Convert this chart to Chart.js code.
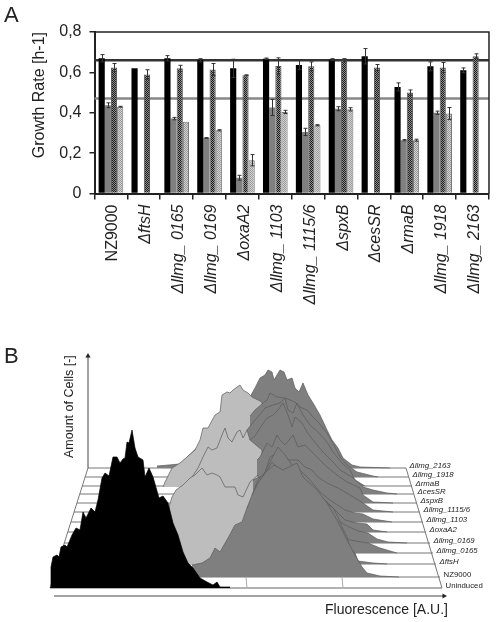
<!DOCTYPE html>
<html>
<head>
<meta charset="utf-8">
<title>Growth rate and fluorescence</title>
<script src="https://cdn.jsdelivr.net/npm/chart.js@4"></script>
<style>
  html, body { margin: 0; padding: 0; background: #fff; }
  #page { position: relative; width: 497px; height: 622px; overflow: hidden; font-family: "Liberation Sans", Arial, sans-serif; color: #222; }
  canvas { position: absolute; left: 0; }
  #graficaA { top: 0; }
  #graficaB { top: 340px; }
  .letra { position: absolute; left: 4px; font-size: 22px; line-height: 22px; }
</style>
</head>
<body>
<div id="page">
  <canvas id="graficaA" width="497" height="340"></canvas>
  <canvas id="graficaB" width="497" height="282"></canvas>
  <div class="letra" style="top:4px">A</div>
  <div class="letra" style="top:345px">B</div>
</div>
<script>
// Panel A: growth rates
const categories = ['NZ9000', 'ΔftsH', 'Δllmg_ 0165', 'Δllmg_ 0169', 'ΔoxaA2', 'Δllmg_ 1103', 'Δllmg_ 1115/6', 'ΔspxB', 'ΔcesSR', 'ΔrmaB', 'Δllmg_ 1918', 'Δllmg_ 2163'];
const yTickLabels = ['0', '0,2', '0,4', '0,6', '0,8'];
const seriesBlack = [0.67, 0.62, 0.67, 0.66, 0.62, 0.668, 0.637, 0.663, 0.68, 0.528, 0.63, 0.61];
const seriesGrey = [0.437, null, 0.371, 0.275, 0.078, 0.426, 0.305, 0.42, null, 0.264, 0.40, null];
const seriesHatch = [0.624, 0.59, 0.62, 0.614, 0.586, 0.632, 0.63, 0.66, 0.624, 0.50, 0.624, 0.68];
const seriesLight = [0.43, null, 0.355, 0.313, 0.165, 0.404, 0.338, 0.417, null, 0.264, 0.396, null];
const errBlack = [0.018, 0, 0.013, 0.008, 0.045, 0.003, 0.023, 0.005, 0.038, 0.02, 0.022, 0.012];
const errGrey = [0.012, 0, 0.006, 0.002, 0.012, 0.04, 0.018, 0.01, 0, 0.003, 0.008, 0];
const errHatch = [0.02, 0.023, 0.015, 0.03, 0.002, 0.04, 0.022, 0.008, 0.015, 0.013, 0.025, 0.012];
const errLight = [0.002, 0, 0, 0.003, 0.028, 0.008, 0.003, 0.008, 0, 0.005, 0.03, 0];
const refDark = 0.66;
const refGrey = 0.47;

// Panel B: histograms, back row first. x = fluorescence, y = cells + row offset
const rowNames = ['Δllmg_2163', 'Δllmg_1918', 'ΔrmaB', 'ΔcesSR', 'ΔspxB', 'Δllmg_1115/6', 'Δllmg_1103', 'ΔoxaA2', 'Δllmg_0169', 'Δllmg_0165', 'ΔftsH', 'NZ9000', 'Uninduced'];
const rowBase = [120, 111, 102, 94, 85, 76, 66, 56, 45, 35, 24, 11, 0];
const rowLeft = [38, 35, 32, 30, 27, 24, 21, 18, 14, 11, 8, 3, 0];
const rowRight = [356, 359, 362, 364, 367, 370, 373, 376, 380, 383, 386, 390, 392];
const floorTicks = [196, 292];

const x2163 = [107, 130, 200, 205, 210, 215, 218, 222, 224, 230, 234, 237, 242, 245, 249, 253, 258, 263, 270, 277, 282, 288, 293, 302, 310, 340];
const y2163 = [122, 124, 191, 200, 210, 213, 218, 216, 208, 218, 216, 208, 210, 200, 196, 205, 193, 185, 173, 158, 148, 140, 130, 123, 121, 120];
const xLightA = [113, 115, 122, 130, 137, 145, 150, 153, 158, 165, 170, 172, 177, 180, 183, 190, 193, 198, 202, 212, 213];
const yLightA = [101, 106, 120, 125, 131, 138, 148, 160, 160, 173, 176, 193, 196, 195, 198, 203, 198, 195, 191, 186, 101];
const x1918 = [200, 205, 212, 217, 220, 227, 235, 240, 245, 250, 257, 263, 268, 277, 283, 290, 297, 307, 323, 328];
const y1918 = [172, 178, 184, 188, 195, 191, 190, 188, 186, 181, 178, 171, 166, 155, 145, 131, 123, 116, 112, 111];
const xRmaB = [197, 205, 212, 215, 223, 230, 235, 238, 243, 247, 253, 260, 268, 277, 283, 292, 300, 305, 315];
const yRmaB = [158, 168, 176, 180, 183, 185, 190, 178, 175, 185, 173, 163, 156, 146, 136, 125, 118, 108, 102];
const xCesSR = [200, 205, 210, 217, 223, 228, 233, 238, 242, 245, 252, 257, 263, 273, 283, 290, 302, 313, 323, 337, 347];
const yCesSR = [148, 152, 160, 170, 173, 178, 185, 173, 161, 171, 165, 156, 148, 136, 126, 118, 111, 101, 98, 95, 94];
const xLightB = [133, 140, 148, 153, 158, 162, 167, 172, 175, 178, 182, 187, 190, 193, 197, 200, 212, 213];
const yLightB = [101, 108, 120, 131, 141, 138, 140, 153, 160, 150, 146, 156, 158, 150, 158, 148, 138, 78];
const xSpxB = [207, 210, 217, 222, 227, 230, 235, 243, 248, 255, 260, 268, 277, 287, 297, 310, 313, 323, 343];
const ySpxB = [128, 131, 145, 141, 153, 148, 143, 153, 141, 143, 138, 130, 121, 113, 106, 100, 93, 86, 85];
const xLightC = [115, 118, 122, 126, 133, 140, 145, 152, 157, 162, 167, 170, 175, 185, 188, 193, 200, 208, 209];
const yLightC = [68, 78, 91, 98, 103, 110, 113, 120, 113, 115, 113, 111, 101, 101, 93, 91, 106, 113, 24];
const x1115 = [203, 210, 215, 220, 227, 233, 240, 248, 255, 262, 268, 277, 288, 300, 313, 323, 343];
const y1115 = [108, 111, 115, 131, 135, 130, 128, 128, 121, 118, 111, 105, 100, 93, 85, 78, 76];
const x1103 = [205, 212, 220, 228, 235, 242, 250, 260, 270, 280, 295, 305, 313, 323, 342];
const y1103 = [101, 110, 126, 141, 133, 123, 118, 108, 96, 88, 78, 75, 74, 69, 66];
const xOxaA2 = [202, 208, 215, 222, 230, 238, 246, 255, 265, 275, 285, 295, 307, 317, 323, 337];
const yOxaA2 = [93, 108, 114, 126, 118, 110, 113, 106, 96, 88, 78, 68, 65, 64, 58, 56];
const x0169 = [200, 212, 220, 235, 250, 265, 280, 295, 308, 318, 327, 338, 357];
const y0169 = [86, 98, 110, 100, 98, 83, 73, 63, 57, 55, 49, 46, 45];
const x0165 = [198, 215, 225, 235, 250, 270, 285, 300, 318, 330, 347];
const y0165 = [82, 88, 98, 91, 88, 68, 58, 48, 45, 40, 35];
const xFtsH = [197, 205, 215, 222, 230, 240, 250, 260, 270, 283, 288, 292, 297, 300, 305, 308, 323, 337];
const yFtsH = [80, 93, 108, 118, 111, 116, 110, 100, 90, 80, 71, 61, 51, 40, 35, 27, 25, 24];
const xNZ = [142, 152, 160, 165, 170, 178, 185, 192, 197, 202, 208, 216, 224, 233, 247, 253, 267, 277, 287, 297, 305, 312, 317, 330, 349];
const yNZ = [23, 25, 30, 40, 36, 50, 63, 66, 80, 93, 105, 116, 123, 118, 125, 111, 98, 85, 68, 48, 33, 21, 15, 12, 11];
const xUninduced = [0, 1, 1, 3, 7, 9, 11, 15, 17, 22, 26, 30, 33, 36, 41, 45, 48, 52, 55, 59, 63, 67, 70, 73, 75, 77, 79, 82, 85, 88, 93, 95, 99, 103, 109, 113, 118, 123, 128, 133, 138, 143, 150, 157, 163, 167, 170, 180];
const yUninduced = [0, 1, 21, 31, 33, 31, 41, 43, 41, 53, 60, 58, 76, 70, 80, 76, 88, 110, 115, 112, 131, 131, 125, 129, 130, 146, 145, 158, 140, 131, 128, 111, 120, 111, 90, 92, 85, 65, 53, 36, 25, 20, 10, 6, 3, 6, 1, 1];

const fontFamily = '"Liberation Sans", Arial, sans-serif';
const colorDarkFill = '#7f7f7f';
const colorLightFill = '#bdbdbd';

// Trama de dos colores para las barras
function crearTrama(a, b) {
  const c = document.createElement('canvas');
  c.width = 2;
  c.height = 2;
  const g = c.getContext('2d');
  g.fillStyle = b;
  g.fillRect(0, 0, 2, 2);
  g.fillStyle = a;
  g.fillRect(0, 0, 1, 1);
  g.fillRect(1, 1, 1, 1);
  return g.createPattern(c, 'repeat');
}

function puntos(xs, ys) {
  return xs.map((x, i) => ({ x: x, y: ys[i] }));
}

// Lineas de referencia y marco, detras de las barras
const marcoPlugin = {
  id: 'marco',
  beforeDatasetsDraw(chart) {
    const { ctx, chartArea: a, scales } = chart;
    ctx.save();
    ctx.lineWidth = 2.5;
    ctx.strokeStyle = '#333';
    let y = scales.y.getPixelForValue(refDark);
    ctx.beginPath(); ctx.moveTo(a.left, y); ctx.lineTo(a.right, y); ctx.stroke();
    ctx.strokeStyle = '#888';
    y = scales.y.getPixelForValue(refGrey);
    ctx.beginPath(); ctx.moveTo(a.left, y); ctx.lineTo(a.right, y); ctx.stroke();
    ctx.strokeStyle = '#222';
    ctx.lineWidth = 1.5;
    ctx.beginPath();
    ctx.moveTo(a.left, a.top); ctx.lineTo(a.right, a.top); ctx.lineTo(a.right, a.bottom);
    ctx.stroke();
    ctx.restore();
  }
};

// Barras de error
const erroresPlugin = {
  id: 'errores',
  afterDatasetsDraw(chart) {
    const { ctx, scales } = chart;
    const errs = [errBlack, errGrey, errHatch, errLight];
    ctx.save();
    ctx.strokeStyle = '#333';
    ctx.lineWidth = 1;
    errs.forEach((serie, d) => {
      chart.getDatasetMeta(d).data.forEach((bar, i) => {
        const v = chart.data.datasets[d].data[i];
        if (v === null || !serie[i]) return;
        const x = Math.round(bar.x) + 0.5;
        const arriba = scales.y.getPixelForValue(v + serie[i]);
        const abajo = scales.y.getPixelForValue(v - serie[i]);
        ctx.beginPath();
        ctx.moveTo(x, arriba); ctx.lineTo(x, abajo);
        ctx.moveTo(x - 2, arriba); ctx.lineTo(x + 2, arriba);
        ctx.moveTo(x - 2, abajo); ctx.lineTo(x + 2, abajo);
        ctx.stroke();
      });
    });
    ctx.restore();
  }
};

new Chart(document.getElementById('graficaA').getContext('2d'), {
  type: 'bar',
  plugins: [marcoPlugin, erroresPlugin],
  data: {
    labels: categories,
    datasets: [
      { data: seriesBlack, backgroundColor: '#000' },
      { data: seriesGrey, backgroundColor: '#808080' },
      { data: seriesHatch, backgroundColor: crearTrama('#1c1c1c', '#8e8e8e'), borderColor: '#555', borderWidth: 1 },
      { data: seriesLight, backgroundColor: crearTrama('#989898', '#d4d4d4'), borderColor: '#777', borderWidth: 1 }
    ]
  },
  options: {
    responsive: false,
    animation: false,
    layout: { padding: { top: 32, right: 6 } },
    datasets: { bar: { categoryPercentage: 0.75, barPercentage: 1 } },
    plugins: { legend: { display: false }, tooltip: { enabled: false } },
    scales: {
      x: {
        afterFit(scale) { scale.height = 146.5; },
        border: { color: '#222', width: 2 },
        grid: { drawOnChartArea: false, color: '#222', lineWidth: 1.5, tickLength: 6 },
        ticks: {
          autoSkip: false,
          minRotation: 90,
          maxRotation: 90,
          padding: 5,
          labelOffset: 2,
          color: '#222',
          font: c => ({ family: fontFamily, size: 16, style: c.index === 0 ? 'normal' : 'italic' })
        }
      },
      y: {
        min: 0,
        max: 0.8,
        afterFit(scale) { scale.width = 94.5; },
        border: { color: '#222', width: 2 },
        grid: { drawOnChartArea: false, color: '#222', lineWidth: 1.5, tickLength: 5 },
        title: {
          display: true,
          text: 'Growth Rate [h-1]',
          align: 'end',
          color: '#222',
          font: { family: fontFamily, size: 16 },
          padding: { top: 30, bottom: 0 }
        },
        ticks: {
          stepSize: 0.2,
          padding: 8,
          color: '#222',
          font: { family: fontFamily, size: 16 },
          callback: (value, index) => yTickLabels[index]
        }
      }
    }
  }
});

// Panel B: textos de filas y ejes
const textosPlugin = {
  id: 'textos',
  afterDatasetsDraw(chart) {
    const { ctx, scales } = chart;
    ctx.save();
    ctx.fillStyle = '#222';
    ctx.textBaseline = 'middle';
    rowNames.forEach((nombre, i) => {
      const recto = nombre === 'NZ9000' || nombre === 'Uninduced';
      ctx.font = (recto ? '' : 'italic ') + '7.8px ' + fontFamily;
      ctx.fillText(nombre, scales.x.getPixelForValue(rowRight[i] + 3.5), scales.y.getPixelForValue(rowBase[i] + 2));
    });
    ctx.font = '14px ' + fontFamily;
    ctx.fillText('Fluorescence [A.U.]', 325, 270);
    ctx.translate(70, 118);
    ctx.rotate(-Math.PI / 2);
    ctx.font = '12.5px ' + fontFamily;
    ctx.fillText('Amount of Cells [-]', 0, 0);
    ctx.restore();
  }
};

function relleno(xs, ys, base, color) {
  return {
    data: puntos(xs, ys),
    fill: { value: base },
    backgroundColor: color,
    borderColor: color === '#000' ? '#000' : '#5a5a5a',
    borderWidth: 0.7
  };
}

function linea(xs, ys, color, ancho) {
  return { data: puntos(xs, ys), fill: false, borderColor: color, borderWidth: ancho || 1 };
}

// Fondo: suelo del grafico, luego cada histograma de atras hacia delante
const capas = [];
rowBase.forEach((b, i) => capas.push(linea([rowLeft[i], rowRight[i]], [b, b], i === 12 ? '#999' : '#777', i === 12 ? 1.5 : 1)));
capas.push(linea([rowLeft[0], rowLeft[12]], [rowBase[0], rowBase[12]], '#777'));
capas.push(linea([rowRight[0], rowRight[12]], [rowBase[0], rowBase[12]], '#777'));
floorTicks.forEach(t => capas.push(linea([t, t + 1], [rowBase[11], rowBase[12]], '#aaa')));
capas.push(relleno(x2163, y2163, rowBase[0], colorDarkFill));
capas.push(relleno(xLightA, yLightA, 101, colorLightFill));
capas.push(relleno(x1918, y1918, rowBase[1], colorDarkFill));
capas.push(relleno(xRmaB, yRmaB, rowBase[2], colorDarkFill));
capas.push(relleno(xCesSR, yCesSR, rowBase[3], colorDarkFill));
capas.push(relleno(xLightB, yLightB, 78, colorLightFill));
capas.push(relleno(xSpxB, ySpxB, rowBase[4], colorDarkFill));
capas.push(relleno(xLightC, yLightC, 24, colorLightFill));
capas.push(relleno(x1115, y1115, rowBase[5], colorDarkFill));
capas.push(relleno(x1103, y1103, rowBase[6], colorDarkFill));
capas.push(relleno(xOxaA2, yOxaA2, rowBase[7], colorDarkFill));
capas.push(relleno(x0169, y0169, rowBase[8], colorDarkFill));
capas.push(relleno(x0165, y0165, rowBase[9], colorDarkFill));
capas.push(relleno(xFtsH, yFtsH, rowBase[10], colorDarkFill));
capas.push(relleno(xNZ, yNZ, rowBase[11], colorDarkFill));
capas.push(relleno(xUninduced, yUninduced, rowBase[12], '#000'));

// Flechas de los ejes
capas.push({ data: [{ x: 38, y: 120 }, { x: 38, y: 232 }], fill: false, borderColor: '#444', borderWidth: 1, pointRadius: [0, 3], pointStyle: 'triangle', pointBackgroundColor: '#222', pointBorderWidth: 0 });
capas.push({ data: [{ x: 4, y: -8 }, { x: 394, y: -8 }], fill: false, borderColor: '#444', borderWidth: 1, pointRadius: [0, 3], pointStyle: 'triangle', pointRotation: 90, pointBackgroundColor: '#222', pointBorderWidth: 0 });

capas.forEach((c, i) => { c.order = capas.length - i; });

new Chart(document.getElementById('graficaB').getContext('2d'), {
  type: 'line',
  plugins: [textosPlugin],
  data: { datasets: capas },
  options: {
    responsive: false,
    animation: false,
    layout: { autoPadding: false },
    elements: { point: { radius: 0 }, line: { tension: 0 } },
    plugins: { legend: { display: false }, tooltip: { enabled: false } },
    scales: {
      x: { type: 'linear', display: false, min: -50, max: 447 },
      y: { type: 'linear', display: false, min: -34, max: 248 }
    }
  }
});
</script>
</body>
</html>
